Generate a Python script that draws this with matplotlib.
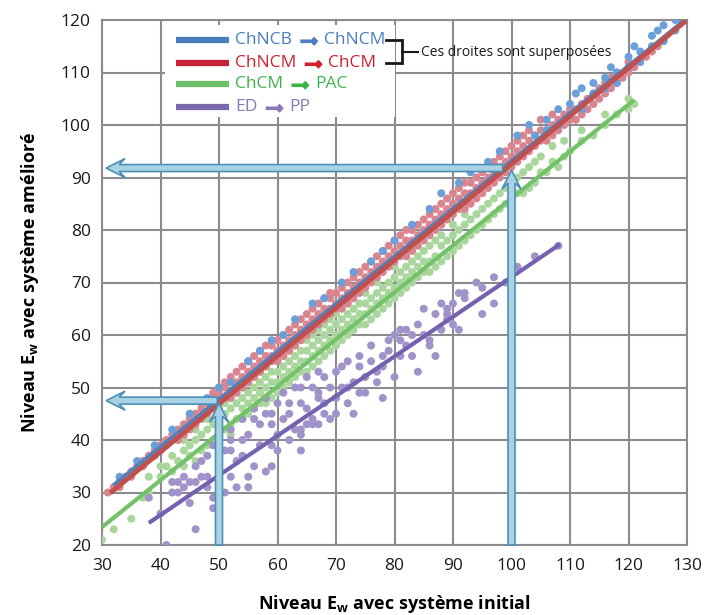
import numpy as np
import matplotlib
matplotlib.use("Agg")
import matplotlib.pyplot as plt
from matplotlib.patches import Polygon, Rectangle
from matplotlib.text import OffsetFrom

plt.rcParams['font.family'] = ['Open Sans', 'DejaVu Sans']
plt.rcParams['mathtext.fontset'] = 'custom'
plt.rcParams['mathtext.rm'] = 'Open Sans'
plt.rcParams['mathtext.bf'] = 'Open Sans:bold'

# scatter points: x -> list of y
blue_pts = {33: [33], 36: [36], 39: [39], 42: [42], 45: [45], 48: [48], 50: [50], 52: [51],
            55: [55], 57: [57], 59: [59], 61: [60], 63: [63], 66: [66], 68: [67], 71: [70],
            73: [72], 76: [74], 78: [76], 80: [78], 83: [81], 86: [84], 88: [87], 91: [89],
            93: [91], 96: [93], 98: [95], 101: [98], 103: [100], 104: [98], 106: [101, 99],
            108: [103, 100], 110: [104, 102], 111: [106], 112: [103, 107], 114: [108, 106],
            116: [109, 107], 117: [111], 118: [110, 108], 120: [113, 111], 121: [115],
            122: [114, 112], 124: [117, 115], 125: [118], 126: [119, 116], 128: [120, 118], 129: [120]}

red_pts = {31: [30], 32: [31], 33: [31, 32], 34: [33], 35: [33, 34], 36: [35], 37: [35, 36], 38: [37],
           39: [37, 38], 40: [38, 39], 41: [39, 40], 42: [40, 41], 43: [40, 42], 44: [41, 43],
           45: [42, 44, 45], 46: [43, 45], 47: [44, 46, 47], 48: [45, 47], 49: [46, 48, 49],
           50: [47, 49, 50], 51: [48, 50, 51], 52: [48, 49, 51, 52], 53: [49, 51, 53], 54: [50, 52, 54],
           55: [51, 53, 55], 56: [52, 54, 56], 57: [53, 55, 57], 58: [54, 56, 58], 59: [55, 56, 58],
           60: [55, 57, 59], 61: [56, 58, 60], 62: [57, 59, 61], 63: [58, 60, 62], 64: [59, 61, 63],
           65: [60, 62, 64], 66: [61, 63, 65], 67: [62, 64, 66], 68: [63, 65, 67], 69: [64, 65, 67, 68],
           70: [65, 66, 68], 71: [65, 67, 69], 72: [66, 68, 70], 73: [67, 69, 71], 74: [68, 70, 72],
           75: [69, 71, 73], 76: [70, 72, 74], 77: [71, 73, 75], 78: [72, 74, 76], 79: [73, 75, 77],
           80: [74, 76, 78], 81: [75, 77, 79], 82: [75, 76, 78, 80], 83: [76, 78, 80], 84: [77, 79, 81],
           85: [78, 80, 82], 86: [79, 81, 83], 87: [80, 82, 84], 88: [81, 83, 85], 89: [82, 84, 86],
           90: [83, 85, 87], 91: [84, 86, 88], 92: [84, 85, 87, 89], 93: [85, 87, 89], 94: [86, 88, 90],
           95: [87, 89, 91], 96: [88, 90, 92], 97: [89, 91, 93], 98: [90, 92, 94], 99: [91, 93, 95],
           100: [92, 94, 96], 101: [93, 95, 97], 102: [94, 96, 98], 103: [95, 97, 99], 104: [96, 98],
           105: [97, 99, 101], 106: [97, 99], 107: [98, 100, 102], 108: [99, 101], 109: [100, 102],
           110: [101, 103], 111: [101, 103], 112: [102, 104], 113: [103, 105], 114: [104, 106],
           115: [105, 107], 116: [106, 108], 117: [107, 109], 118: [108, 110], 119: [109],
           120: [110, 112], 121: [111], 122: [112], 123: [113], 124: [114], 125: [115], 126: [116]}

green_pts = {30: [21], 32: [23], 35: [25], 37: [29], 38: [33, 30], 40: [33, 35], 41: [35], 42: [34, 37],
             43: [36], 44: [35, 38, 40], 45: [37, 39], 46: [36, 40, 42], 47: [38, 41], 48: [39, 42, 44],
             49: [40, 43], 50: [41, 44, 46, 39], 51: [42, 45, 47], 52: [43, 46, 48, 41], 53: [44, 47, 49],
             54: [44, 46, 48, 50], 55: [45, 47, 49, 51], 56: [46, 48, 50, 52], 57: [47, 49, 51, 53],
             58: [47, 50, 52, 54], 59: [48, 51, 53, 55], 60: [49, 51, 53, 55, 57], 61: [50, 52, 54, 56],
             62: [51, 53, 55, 57], 63: [52, 54, 56, 58], 64: [53, 55, 57, 59], 65: [53, 55, 57, 59, 61],
             66: [54, 56, 58, 60], 67: [55, 57, 59, 61], 68: [56, 58, 60, 62], 69: [57, 59, 61, 63],
             70: [58, 60, 62, 64], 71: [59, 61, 63], 72: [60, 62, 64, 66], 73: [61, 63, 65],
             74: [62, 64, 66], 75: [62, 64, 66, 68], 76: [63, 65, 67], 77: [64, 66, 68, 70],
             78: [65, 67, 69], 79: [66, 68, 70], 80: [67, 69, 71, 73], 81: [68, 70, 72], 82: [69, 71, 73],
             83: [70, 72, 74], 84: [71, 73, 75], 85: [72, 74, 76], 86: [72, 74, 77], 87: [73, 75, 78],
             88: [74, 77, 79], 89: [75, 78], 90: [76, 79, 81], 91: [77, 80], 92: [78, 81, 83], 93: [79, 82],
             94: [80, 83], 95: [81, 84], 96: [82, 85], 97: [83, 86], 98: [84, 87], 99: [85, 88],
             100: [86, 89], 101: [87, 90], 102: [87, 91], 103: [88, 92], 104: [89, 93], 105: [91, 94],
             106: [91], 107: [93, 96], 108: [92], 109: [94, 97], 110: [95], 112: [97, 99], 114: [98],
             116: [100, 102], 118: [102], 120: [103, 105], 121: [104]}

purple_pts = {38: [29], 40: [26], 41: [20], 42: [30, 32], 43: [32, 30], 44: [33, 31], 45: [32, 28],
              46: [23, 32, 35], 47: [33, 36], 48: [33, 31, 37], 49: [29, 27, 39], 50: [36, 34], 51: [30, 38],
              52: [42, 40, 38, 33], 53: [31, 36], 54: [40, 37, 44], 55: [31, 33, 41], 56: [35, 44, 46],
              57: [39, 43], 58: [45, 34, 48], 59: [45, 43, 35, 39], 60: [41, 38, 47], 61: [49, 44],
              62: [45, 47, 40], 63: [42, 50], 64: [42, 41, 47, 50, 38], 65: [43, 52, 46], 66: [44, 43, 50],
              67: [53, 49, 48, 43], 68: [52, 45, 47], 69: [44, 50], 70: [45, 53, 48], 71: [54, 50],
              72: [50, 47, 55], 73: [51, 45], 74: [56, 54, 49], 75: [49, 52], 76: [55, 58], 77: [53, 51],
              78: [48, 56, 54], 79: [59, 57], 80: [52, 60], 81: [59, 56, 61], 82: [61, 58], 83: [60, 56],
              84: [53, 62], 85: [60, 65], 86: [59, 58], 87: [56, 64], 88: [61, 66], 89: [65, 64, 63],
              90: [66, 62], 91: [68, 61], 92: [68, 67], 94: [70], 95: [64, 69], 97: [66, 71], 99: [70],
              101: [73], 104: [75], 108: [77]}

# regression lines (x0, y0, x1, y1)
blue_line = [31.9, 31.4, 130, 120.4]
red_line = [31.4, 29.9, 130, 120]
green_line = [30, 23.4, 121, 104.8]
purple_line = [38, 24.2, 108.3, 77.3]

label_from = ["ChNCB", "ChNCM", "ChCM", "ED"]
label_to = ["ChNCM", "ChCM", "PAC", "PP"]
note = "Ces droites sont superposées"

dot_colors = ['#6a9fd9', '#d98590', '#a9d69c', '#a093c9']
line_colors = ['#4f81bd', '#c0504d', '#73c168', '#7462b0']
leg_colors = ['#4a7ebf', '#c8213a', '#6cc06a', '#7b68ae']
txt_colors = ['#4a7ebf', '#d0202e', '#3cb44a', '#8a78b8']


def flat(d):
    xs, ys = [], []
    for k, v in d.items():
        for y in v:
            xs.append(k)
            ys.append(y)
    return np.array(xs), np.array(ys)


W, H = 705, 615
fig = plt.figure(figsize=(W / 100, H / 100), dpi=100)
L, R, T, B = 102, 687, 20, 545
ax = fig.add_axes([L / W, 1 - B / H, (R - L) / W, (B - T) / H])
ax.set_xlim(30, 130)
ax.set_ylim(20, 120)
sx = 100 / (R - L)  # data units per pixel
sy = 100 / (B - T)

ax.set_xticks(np.arange(30, 131, 10))
ax.set_yticks(np.arange(20, 121, 10))
ax.grid(True, color='#8c8c90', lw=1.5)
ax.set_axisbelow(True)
for s in ax.spines.values():
    s.set_color('#8c8c90')
    s.set_linewidth(1.5)
ax.tick_params(length=0, labelsize=12.5, colors='#1a1a1a')
ax.tick_params(axis='x', pad=9)
ax.tick_params(axis='y', pad=8)

# dots
for d, c in [(green_pts, dot_colors[2]), (purple_pts, dot_colors[3]),
             (red_pts, dot_colors[1]), (blue_pts, dot_colors[0])]:
    xs, ys = flat(d)
    ax.scatter(xs, ys, s=33, color=c, edgecolor='none', zorder=3)

# lines
ax.plot(blue_line[::2], blue_line[1::2], color=line_colors[0], lw=2.5, zorder=4,
        solid_capstyle='butt')
ax.plot(red_line[::2], red_line[1::2], color=line_colors[1], lw=3.5, zorder=5,
        solid_capstyle='butt')
ax.plot(green_line[::2], green_line[1::2], color=line_colors[2], lw=3, zorder=4,
        solid_capstyle='butt')
ax.plot(purple_line[::2], purple_line[1::2], color=line_colors[3], lw=3, zorder=4,
        solid_capstyle='butt')


# hollow block arrows
def arrow(x_tail, y_tail, x_tip, y_tip):
    w, h, ln, n = 3.5, 9.5, 19, 6
    if x_tail == x_tip:  # vertical, pointing up
        pts = [(0, 0), (h, -ln), (w, -ln + n), (w, -(y_tip - y_tail) / sy),
               (-w, -(y_tip - y_tail) / sy), (-w, -ln + n), (-h, -ln)]
    else:  # horizontal, pointing left
        pts = [(0, 0), (ln, h), (ln - n, w), ((x_tail - x_tip) / sx, w),
               ((x_tail - x_tip) / sx, -w), (ln - n, -w), (ln, -h)]
    pts = [(x_tip + a * sx, y_tip + b * sy) for a, b in pts]
    ax.add_patch(Polygon(pts, closed=True, facecolor='#a9d2e4', edgecolor='#4d90b6',
                         lw=1.2, zorder=6, clip_on=False))


arrow(49.7, 47.5, 30.7, 47.5)
arrow(50, 20, 50, 47.0)
arrow(98.5, 91.8, 30.7, 91.8)
arrow(100, 20, 100, 91.4)

# legend
ax.add_patch(Rectangle((30 + (165 - L) * sx, 120 - (117 - T) * sy), 230 * sx, 92 * sy,
                       facecolor='white', edgecolor='none', zorder=7))
rows = [40, 63, 84, 107]
for i, py in enumerate(rows):
    yy = 120 - (py - T) * sy
    ax.plot([30 + (176 - L) * sx, 30 + (229 - L) * sx], [yy, yy], color=leg_colors[i],
            lw=4.5, zorder=8, solid_capstyle='butt')
    t1 = ax.text(30 + (235 - L) * sx, yy, label_from[i], color=txt_colors[i], fontsize=12.5,
                 va='center', ha='left', zorder=8)
    ref = OffsetFrom(t1, (1, 0.42))
    ax.annotate("", xy=(19, 0), xycoords=ref, xytext=(6, 0), textcoords=ref,
                arrowprops=dict(arrowstyle='->,head_length=0.22,head_width=0.24',
                                lw=2.6, color=txt_colors[i], shrinkA=0, shrinkB=0,
                                joinstyle='miter', capstyle='butt'),
                zorder=8)
    ax.annotate(label_to[i], xy=(1, 0.5), xycoords=t1, xytext=(23, 0),
                textcoords='offset points', color=txt_colors[i], fontsize=12.5,
                va='center', ha='left', zorder=8)

# bracket
bx0, bx1, bx2 = [30 + (p - L) * sx for p in (386, 402, 418)]
by0, by1, bym = [120 - (p - T) * sy for p in (40, 63, 52)]
ax.plot([bx0, bx1, bx1, bx0], [by0, by0, by1, by1], color='#1a1a1a', lw=2, zorder=8,
        solid_joinstyle='miter')
ax.plot([bx1, bx2], [bym, bym], color='#1a1a1a', lw=1.5, zorder=8)
ax.text(30 + (421 - L) * sx, bym, note, fontsize=10, va='center', ha='left',
        color='#1a1a1a', zorder=8)

ax.set_xlabel(r"Niveau E$_\mathbf{w}$ avec système initial", fontsize=13,
              fontweight='bold', labelpad=14)
ax.set_ylabel(r"Niveau E$_\mathbf{w}$ avec système amélioré", fontsize=13,
              fontweight='bold', labelpad=14)

fig.savefig("out.png", dpi=100)
